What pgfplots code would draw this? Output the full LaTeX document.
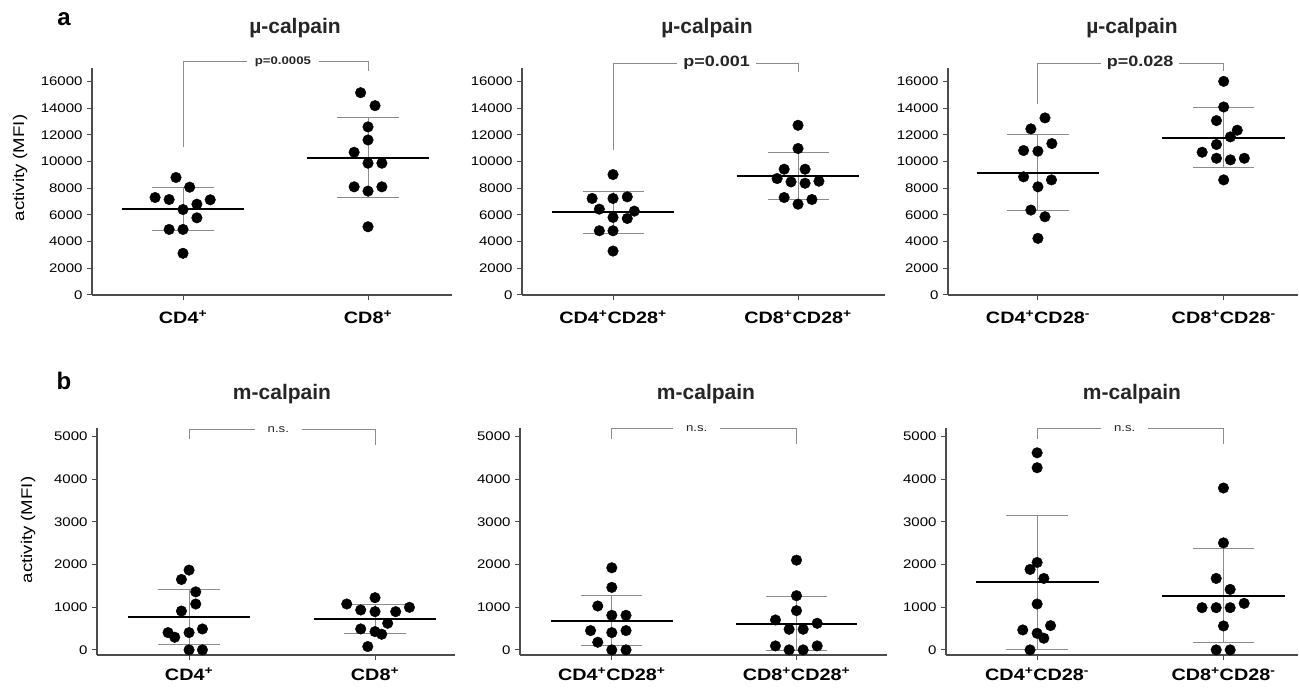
\documentclass[border=0pt]{standalone}
\usepackage{pgfplots}
\pgfplotsset{compat=1.18}
\usepackage{fontspec}
\setmainfont{Liberation Sans}
\newfontfamily\wide[FakeStretch=1.2]{Liberation Sans}
\definecolor{axc}{gray}{0.3}
\definecolor{erc}{gray}{0.55}
\pgfplotsset{
  panel/.style={scale only axis, height=227pt,
    axis x line=bottom, axis y line=left,
    axis line style={-, line width=1.5pt, axc},
    tick align=outside, major tick length=5pt,
    tick style={axc, line width=1pt},
    xtick={0,1}, clip=false, scaled y ticks=false,
    yticklabel style={font=\wide\fontsize{12.5}{14}\selectfont, /pgf/number format/1000 sep={}, /pgf/number format/assume math mode=true, xshift=-1pt},
    xticklabel style={font=\wide\bfseries\fontsize{16.5}{19}\selectfont, yshift=-7pt},
  },
  top/.style={panel, ymin=0, ymax=17000, ytick={0,2000,...,16000}},
  bot/.style={panel, ymin=-120, ymax=5200, ytick={0,1000,...,5000}, xticklabel style={yshift=3pt}},
  dots/.style={only marks, mark=*, mark size=5.3pt, black},
}
\newcommand{\stat}[4]{%
  \addplot[erc, line width=1pt] coordinates {(#1,#3) (#1,#4)};
  \addplot[erc, line width=1pt] coordinates {({#1-0.165},#3) ({#1+0.165},#3)};
  \addplot[erc, line width=1pt] coordinates {({#1-0.165},#4) ({#1+0.165},#4)};
  \addplot[black, line width=2pt] coordinates {({#1-0.33},#2) ({#1+0.33},#2)};
}
\newcommand{\brk}[6]{% left low, top, right low, text x, text, xsep
  \draw[erc, line width=1pt] (axis cs:0,#1) |- (axis cs:1,#2) -- (axis cs:1,#3);
  \node[fill=white, inner xsep=#6, inner ysep=1pt, text=black!85] at (axis cs:#4,#2) {#5};
}
\begin{document}
\begin{tikzpicture}[x=1pt,y=1pt]
\useasboundingbox (0,0) rectangle (1299,688);
% ---------- panel labels & titles
\node[font=\bfseries\fontsize{24}{26}\selectfont] at (64,669) {a};
\node[font=\bfseries\fontsize{24}{26}\selectfont] at (64,307) {b};
\foreach \xx in {295,707,1132} {\node[anchor=base, font=\bfseries\fontsize{21}{24}\selectfont, text=black!85] at (\xx,654) {µ-calpain};}
\foreach \xx in {282,706,1132} {\node[anchor=base, font=\bfseries\fontsize{21}{24}\selectfont, text=black!85] at (\xx,288) {m-calpain};}
\node[rotate=90, font=\wide\fontsize{15.5}{17}\selectfont] at (20,520) {activity (MFI)};
\node[rotate=90, font=\wide\fontsize{15.5}{17}\selectfont] at (28,158) {activity (MFI)};

% ---------- Panel 1
\begin{axis}[top, width=360pt, at={(92pt,393pt)}, anchor=south west, xmin=-0.492, xmax=1.454,
  xticklabels={CD4\textsuperscript{+}, CD8\textsuperscript{+}}]
\stat{0}{6405}{4810}{8025}
\stat{1}{10290}{7330}{13280}
\addplot[dots] coordinates {(-0.038,8800) (0.036,8075) (-0.151,7300) (-0.075,7150) (0.147,7130) (0.075,6800) (0,6400) (0.075,5780) (-0.075,4910) (0,4910) (0,3120)};
\addplot[dots] coordinates {(0.96,15150) (1.038,14180) (1,12590) (1,11610) (0.925,10690) (1,9870) (1.075,9870) (0.925,8100) (1.075,8100) (1,7780) (1,5110)};
\brk{11090}{17495}{16773}{0.54}{\wide\bfseries\fontsize{11}{13}\selectfont p=0.0005}{8pt}
\end{axis}

% ---------- Panel 2
\begin{axis}[top, width=363pt, at={(522pt,393pt)}, anchor=south west, xmin=-0.492, xmax=1.47,
  xticklabels={CD4\textsuperscript{+}CD28\textsuperscript{+}, CD8\textsuperscript{+}CD28\textsuperscript{+}}]
\stat{0}{6230}{4640}{7750}
\stat{1}{8920}{7150}{10640}
\addplot[dots] coordinates {(0,9020) (-0.113,7230) (0,7230) (0.077,7350) (-0.074,6430) (0.115,6280) (0,5810) (0.077,5730) (-0.074,4810) (0,4810) (0,3290)};
\addplot[dots] coordinates {(1,12710) (1,10970) (0.925,9420) (1.038,9420) (0.887,8720) (0.962,8470) (1.038,8370) (1.113,8520) (0.925,7300) (1.075,7150) (1,6800)};
\brk{10891}{17370}{16698}{0.56}{\wide\bfseries\fontsize{15}{17}\selectfont p=0.001}{6pt}
\end{axis}

% ---------- Panel 3
\begin{axis}[top, width=350pt, at={(948pt,393pt)}, anchor=south west, xmin=-0.484, xmax=1.40,
  xticklabels={CD4\textsuperscript{+}CD28\textsuperscript{-}, CD8\textsuperscript{+}CD28\textsuperscript{-}}]
\stat{0}{9150}{6300}{12010}
\stat{1}{11790}{9520}{14030}
\addplot[dots] coordinates {(0.038,13260) (-0.038,12440) (0.075,11340) (-0.077,10820) (0,10770) (-0.077,8850) (0.073,8620) (0,8100) (-0.038,6360) (0.038,5860) (0,4240)};
\addplot[dots] coordinates {(1,16000) (1,14080) (0.961,13060) (1.073,12340) (1.036,11840) (0.961,11270) (0.884,10690) (0.961,10240) (1.111,10240) (1.036,10120) (1,8620)};
\brk{14330}{17370}{16773}{0.55}{\wide\bfseries\fontsize{15}{17}\selectfont p=0.028}{6pt}
\end{axis}

% ---------- Panel 4
\begin{axis}[bot, width=358pt, at={(97pt,33pt)}, anchor=south west, xmin=-0.495, xmax=1.43,
  xticklabels={CD4\textsuperscript{+}, CD8\textsuperscript{+}}]
\stat{0}{763}{132}{1425}
\stat{1}{724}{374}{1059}
\addplot[dots] coordinates {(0,1870) (-0.041,1650) (0.036,1360) (0.036,1075) (-0.041,910) (-0.113,405) (-0.077,296) (0,405) (0.072,490) (0,0) (0.072,0)};
\addplot[dots] coordinates {(1,1223) (0.848,1075) (0.923,935) (1,896) (1.111,896) (1.185,997) (1.068,623) (0.923,491) (1,428) (1.036,366) (0.961,78)};
\brk{4945}{5164}{4790}{0.48}{\wide\fontsize{11}{13}\selectfont n.s.}{13pt}
\end{axis}

% ---------- Panel 5
\begin{axis}[bot, width=367pt, at={(520pt,33pt)}, anchor=south west, xmin=-0.497, xmax=1.49,
  xticklabels={CD4\textsuperscript{+}CD28\textsuperscript{+}, CD8\textsuperscript{+}CD28\textsuperscript{+}}]
\stat{0}{685}{93}{1285}
\stat{1}{607}{-20}{1262}
\addplot[dots] coordinates {(0,1924) (0,1464) (-0.076,1028) (0,810) (0.077,810) (-0.115,452) (0,405) (0.077,452) (-0.076,179) (0,0) (0.077,0)};
\addplot[dots] coordinates {(1,2103) (1,1269) (1,919) (0.886,701) (1.112,623) (0.96,483) (1.036,483) (0.886,93) (1.112,93) (0.96,0) (1.036,0)};
\brk{4945}{5179}{4830}{0.46}{\wide\fontsize{11}{13}\selectfont n.s.}{13pt}
\end{axis}

% ---------- Panel 6
\begin{axis}[bot, width=352pt, at={(946pt,33pt)}, anchor=south west, xmin=-0.489, xmax=1.40,
  xticklabels={CD4\textsuperscript{+}CD28\textsuperscript{-}, CD8\textsuperscript{+}CD28\textsuperscript{-}}]
\stat{0}{1581}{0}{3154}
\stat{1}{1269}{171}{2375}
\addplot[dots] coordinates {(0,4618) (0,4268) (0,2048) (-0.038,1885) (0.036,1674) (0,1075) (0.072,569) (-0.077,467) (0,389) (0.036,273) (-0.038,0)};
\addplot[dots] coordinates {(1,3793) (1,2508) (0.961,1674) (1.036,1417) (0.885,989) (0.961,989) (1.036,989) (1.111,1090) (1,561) (0.961,0) (1.036,0)};
\brk{4945}{5179}{4830}{0.47}{\wide\fontsize{11}{13}\selectfont n.s.}{13pt}
\end{axis}
\end{tikzpicture}
\end{document}
